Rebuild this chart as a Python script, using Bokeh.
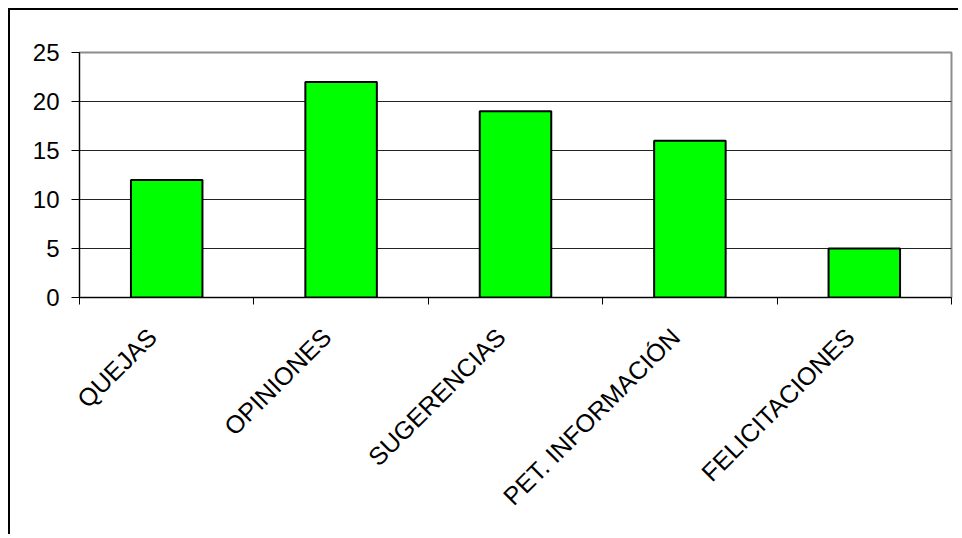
from bokeh.plotting import figure
from bokeh.models import Range1d, FixedTicker, LinearAxis
from bokeh.embed import file_html
from bokeh.resources import INLINE

categories = ["QUEJAS", "OPINIONES", "SUGERENCIAS", "PET. INFORMACIÓN", "FELICITACIONES"]
values = [12, 22, 19, 16, 5]
y_ticks = [0, 5, 10, 15, 20, 25]

n = len(categories)
centers = [i + 0.5 for i in range(n)]
bounds = [i for i in range(n + 1)]
label_shift = 0.083  # rotated labels end slightly left of the category centre

FONT = "Liberation Sans"

p = figure(width=950, height=526, output_backend="svg", toolbar_location=None,
           x_range=Range1d(0, n), y_range=Range1d(0, 25),
           min_border_left=69, min_border_top=42, min_border_right=9,
           min_border_bottom=239)
p.styles = {"margin-left": "8px", "margin-top": "8px",
            "border-left": "2px solid black", "border-top": "2px solid black"}
p.background_fill_color = "white"
p.border_fill_color = "white"
p.outline_line_color = "#8c8c8c"
p.outline_line_width = 2

p.xgrid.visible = False
p.ygrid.ticker = FixedTicker(ticks=y_ticks)
p.ygrid.grid_line_color = "#222222"
p.ygrid.grid_line_width = 1

p.vbar(x=centers, top=values, width=0.41, bottom=0,
       fill_color="#00FF00", line_color="black", line_width=2)

# y axis
ya = p.yaxis[0]
ya.ticker = FixedTicker(ticks=y_ticks)
ya.axis_line_color = "black"
ya.axis_line_width = 1
ya.major_tick_in = 0
ya.major_tick_out = 8
ya.major_tick_line_color = "black"
ya.minor_tick_line_color = None
ya.major_label_text_font = FONT
ya.major_label_text_font_size = "24px"
ya.major_label_text_color = "black"
ya.major_label_standoff = 12

# boundary ticks axis (nearest to frame)
xa = p.xaxis[0]
xa.ticker = FixedTicker(ticks=bounds)
xa.major_label_overrides = {b: "" for b in bounds}
xa.major_label_text_font_size = "0px"
xa.major_tick_in = 0
xa.major_tick_out = 7
xa.major_tick_line_color = "black"
xa.minor_tick_line_color = None
xa.axis_line_color = "black"
xa.axis_line_width = 1
xa.major_label_standoff = 0

# category label axis
label_ticks = [c - label_shift for c in centers]
la = LinearAxis(ticker=FixedTicker(ticks=label_ticks),
                major_label_overrides={t: lab for t, lab in zip(label_ticks, categories)})
la.axis_line_color = None
la.major_tick_line_color = None
la.minor_tick_line_color = None
la.major_label_orientation = 0.785398
la.major_label_text_font = FONT
la.major_label_text_font_size = "25px"
la.major_label_text_color = "black"
la.major_label_standoff = 22
p.add_layout(la, "below")

open("out.html", "w").write(file_html(p, INLINE))
